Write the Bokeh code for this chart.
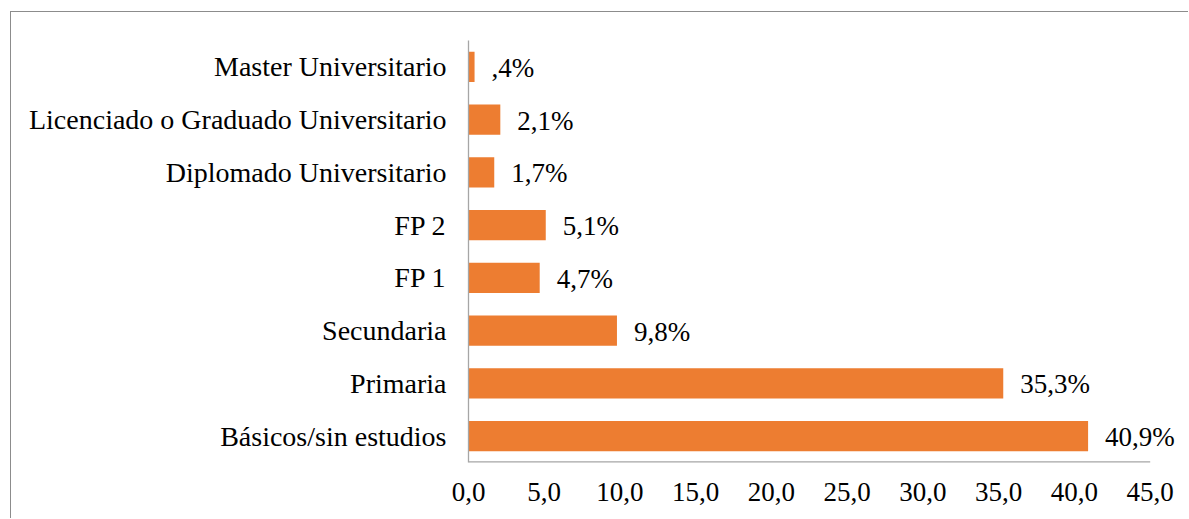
from bokeh.plotting import figure
from bokeh.models import FactorRange, Range1d, FixedTicker, ColumnDataSource, LabelSet
from bokeh.embed import file_html
from bokeh.resources import INLINE

categories = ["Básicos/sin estudios", "Primaria", "Secundaria", "FP 1", "FP 2",
              "Diplomado Universitario", "Licenciado o Graduado Universitario",
              "Master Universitario"]
percentages = [40.9, 35.3, 9.8, 4.7, 5.1, 1.7, 2.1, 0.4]
value_labels = ["40,9%", "35,3%", "9,8%", "4,7%", "5,1%", "1,7%", "2,1%", ",4%"]
x_ticks = [0, 5, 10, 15, 20, 25, 30, 35, 40, 45]
x_tick_labels = ["0,0", "5,0", "10,0", "15,0", "20,0", "25,0", "30,0", "35,0", "40,0", "45,0"]

FONT = "Liberation Serif"
BAR = "#ED7D31"
AXIS = "#A6A6A6"
X_MAX = x_ticks[-1]

# frame extends a little past 45 so the last value label is not clipped
p = figure(width=1178, height=507, y_range=FactorRange(*categories),
           x_range=Range1d(0, 47), output_backend="svg", toolbar_location=None,
           min_border_left=457, min_border_right=9, min_border_top=28, min_border_bottom=57)
p.styles = {"margin-left": "10px", "margin-top": "11px",
            "border-left": "1px solid #8C8C8C", "border-top": "1px solid #8C8C8C"}
p.outline_line_color = None
p.xgrid.grid_line_color = None
p.ygrid.grid_line_color = None

src = ColumnDataSource(dict(cat=categories, val=percentages, lab=value_labels))
p.hbar(y="cat", right="val", left=0, height=0.57, source=src, fill_color=BAR, line_color=None)
labels = LabelSet(x="val", y="cat", text="lab", source=src, x_offset=17, y_offset=-1,
                  text_align="left", text_baseline="middle", text_font=FONT,
                  text_font_size="27px", text_color="#000000")
p.add_layout(labels)

# horizontal axis line only from 0 to 45
p.segment(x0=[0], x1=[X_MAX], y0=[0], y1=[0], line_color=AXIS, line_width=2.6)

p.xaxis.ticker = FixedTicker(ticks=x_ticks)
p.xaxis.major_label_overrides = {t: s for t, s in zip(x_ticks, x_tick_labels)}
p.xaxis.axis_line_color = None
p.yaxis.axis_line_color = AXIS
p.yaxis.axis_line_width = 1.3
for ax in (p.xaxis, p.yaxis):
    ax.major_tick_line_color = None
    ax.minor_tick_line_color = None
    ax.major_tick_out = 0
    ax.major_tick_in = 0
    ax.major_label_text_font = FONT
    ax.major_label_text_color = "#000000"
p.xaxis.major_label_text_font_size = "27px"
p.xaxis.major_label_standoff = 20
p.yaxis.major_label_text_font_size = "28px"
p.yaxis.major_label_standoff = 22

open("out.html", "w").write(file_html(p, INLINE))
